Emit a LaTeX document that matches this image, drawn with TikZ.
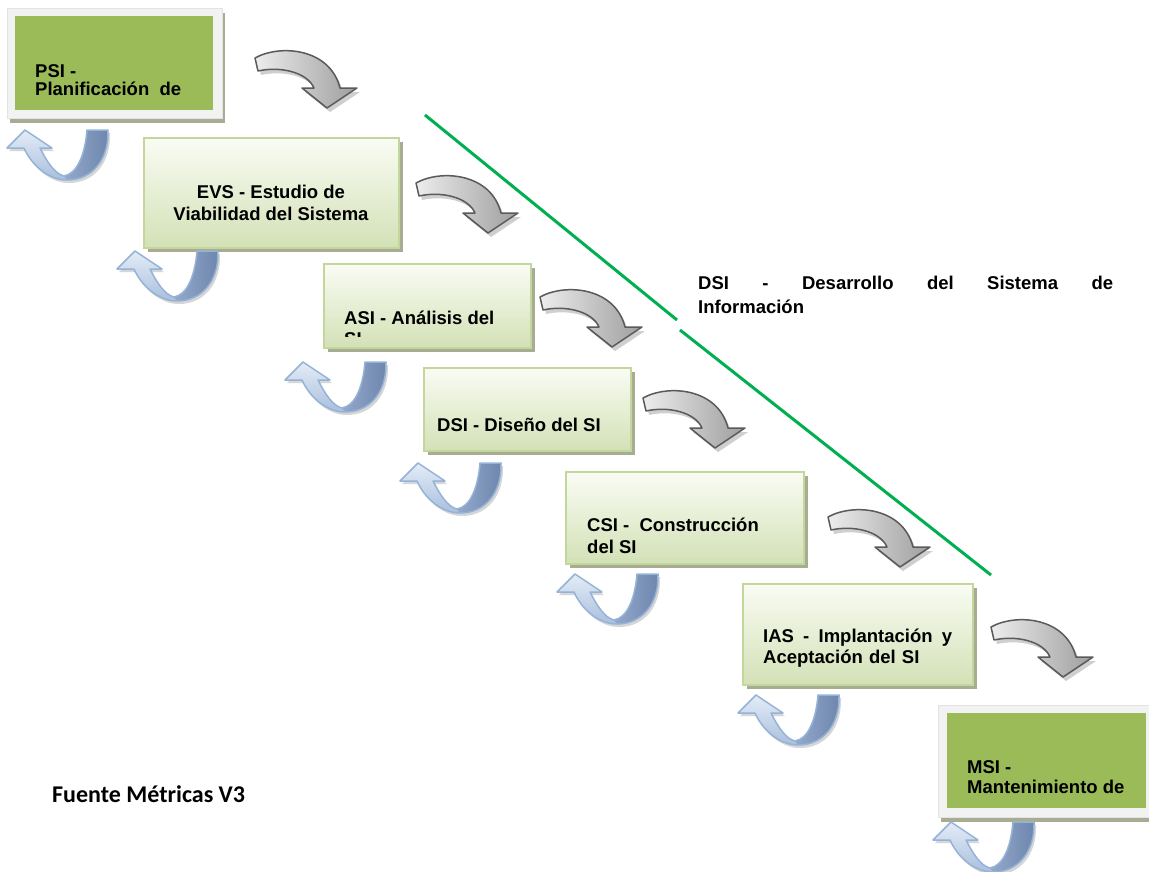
\documentclass[tikz,border=0pt]{standalone}
\usepackage{fontspec}
\usepackage{xcolor}
\usepackage{tikz}
\usetikzlibrary{shadows}
\usetikzlibrary{positioning}
\newfontfamily\boxfont{Liberation Sans}
\newfontfamily\notefont{Carlito}
\definecolor{phaseborder}{HTML}{C3D69B}
\definecolor{phasetop}{HTML}{FAFCF4}
\definecolor{phasebot}{HTML}{D3E1B6}
\definecolor{shadowolive}{HTML}{A8AC92}
\definecolor{framefill}{HTML}{F2F2F2}
\definecolor{framegray}{HTML}{E3E3E3}
\definecolor{coregreen}{HTML}{9BBB59}
\definecolor{dsigreen}{HTML}{00B050}
\definecolor{turnlight}{HTML}{EDEDED}
\definecolor{turndark}{HTML}{9E9E9E}
\definecolor{turnedge}{HTML}{5A5A5A}
\definecolor{turnshadow}{HTML}{CFCFCF}
\definecolor{loopedge}{HTML}{95B3D7}
\definecolor{looplight}{HTML}{E4ECF7}
\definecolor{loopmid}{HTML}{A9BFDD}
\definecolor{looparmlight}{HTML}{94A9CB}
\definecolor{looparmdark}{HTML}{6E86AD}
\definecolor{loopshadow}{HTML}{D6D6D6}
\newcommand{\phasefont}[1]{\boxfont\bfseries\fontsize{18.5}{#1}\selectfont}
\tikzstyle{phase} = [rectangle, draw=phaseborder, line width=1.5pt, top color=phasetop, bottom color=phasebot,
    anchor=north west, inner sep=0pt, drop shadow={shadow xshift=4pt, shadow yshift=-4pt, fill=shadowolive, opacity=1}]
\tikzstyle{endframe} = [rectangle, draw=framegray, line width=1pt, fill=framefill, anchor=north west, inner sep=0pt,
    drop shadow={shadow xshift=2pt, shadow yshift=-4pt, fill=shadowolive, opacity=1}]
\tikzstyle{endcore} = [rectangle, fill=coregreen, anchor=north west, inner sep=0pt]
\tikzstyle{phasetext} = [font=\phasefont{21.5}, align=left, inner sep=0pt, anchor=base west]
\tikzstyle{dsiline} = [draw=dsigreen, line width=3pt]
% block arrows
\newcommand{\turnpath}{(0,0) .. controls (25,-14) and (75,-10) .. (85,30) -- (102,30) -- (72,50) -- (47,30) -- (59,30)
    .. controls (52,14) and (25,8) .. (3,13) -- cycle}
\newcommand{\looppath}{(0,0) -- (21,0) .. controls (22,30) and (5,50) .. (-20,50) .. controls (-38,50) and (-55,36) .. (-63,18)
    -- (-80,18) -- (-62,0) -- (-35,18) -- (-47,18) .. controls (-40,32) and (-32,44) .. (-23,46)
    .. controls (-10,44) and (-2,25) .. (0,0) -- cycle}
\newcommand{\armpath}{(0,0) -- (21,0) .. controls (22,30) and (5,50) .. (-20,50) -- (-23,46) .. controls (-10,44) and (-2,25) .. (0,0) -- cycle}
\newcommand{\grayturn}[1]{%
  \begin{scope}[shift={(#1)}]
    \fill[turnshadow, shift={(3,4)}] \turnpath;
    \path[left color=turnlight, right color=turndark, draw=turnedge, line width=1.5pt, line join=round] \turnpath;
  \end{scope}}
\newcommand{\blueloop}[1]{%
  \begin{scope}[shift={(#1)}]
    \fill[loopshadow, shift={(2,3)}] \looppath;
    \path[top color=looplight, bottom color=loopmid] \looppath;
    \path[left color=looparmlight, right color=looparmdark] \armpath;
    \draw[loopedge, line width=1.5pt, line join=round] \looppath;
  \end{scope}}

\begin{document}
\begin{tikzpicture}[x=1pt,y=-1pt]
    \path[fill=white,use as bounding box] (0,0) rectangle (1149,871);
    % Place nodes
    \node[endframe, minimum width=215pt, minimum height=110pt] (psiframe) at (7,8) {};
    \node[endcore, minimum width=198pt, minimum height=94pt] (psi) at (15,16) {};
    \node[phase, minimum width=255pt, minimum height=110pt] (evs) at (143,137) {};
    \node[phase, minimum width=207pt, minimum height=84pt] (asi) at (323,263) {};
    \node[phase, minimum width=207pt, minimum height=83pt] (dsi) at (423,367) {};
    \node[phase, minimum width=238pt, minimum height=92pt] (csi) at (565,471) {};
    \node[phase, minimum width=230pt, minimum height=101pt] (ias) at (742,583) {};
    \node[endframe, minimum width=215pt, minimum height=112pt] (msiframe) at (938,705) {};
    \node[endcore, minimum width=199pt, minimum height=95pt] (msi) at (947,713) {};
    % Texts
    \node[phasetext, font=\phasefont{18}] (psitext) at (35,95) {PSI -\\Planificación \ de};
    \node[phasetext, align=center, anchor=base] (evstext) at (271,220) {EVS - Estudio de\\Viabilidad del Sistema};
    \begin{scope}
        \clip (323,263) rectangle (530,336);
        \node[phasetext] (asitext) at (344,345.5) {ASI - Análisis del\\SI};
    \end{scope}
    \node[phasetext] (dsitext) at (437,431) {DSI - Diseño del SI};
    \node[phasetext] (csitext) at (587,553) {CSI - \ Construcción\\del SI};
    \node[phasetext, text width=189pt] (iastext) at (763,642) {IAS\hfill-\hfill Implantación\hfill y\\Aceptación del SI};
    \node[phasetext, font=\phasefont{20}] (msitext) at (967,793) {MSI -\\Mantenimiento de};
    \node[phasetext, font=\phasefont{24}, text width=415pt] (dsilabel) at (698,289)
        {DSI\hfill-\hfill Desarrollo\hfill del\hfill Sistema\hfill de\\Información};
    \node[font=\notefont\bfseries\fontsize{24}{28}\selectfont, anchor=base west, inner sep=0pt] (source) at (52,802) {Fuente Métricas V3};
    % DSI boundary
    \coordinate (dsitop) at (425,115);
    \coordinate (dsigap1) at (677,320);
    \coordinate (dsigap2) at (680,330);
    \coordinate (dsiend) at (991,575);
    \path [dsiline] (dsitop) -- (dsigap1);
    \path [dsiline] (dsigap2) -- (dsiend);
    % Forward arrows
    \grayturn{255,58}
    \grayturn{416,183}
    \grayturn{540,297}
    \grayturn{643,398}
    \grayturn{828,517}
    \grayturn{991,627}
    % Return arrows
    \blueloop{87,130}
    \blueloop{197,251}
    \blueloop{365,362}
    \blueloop{480,463}
    \blueloop{637,574}
    \blueloop{818,695}
    \blueloop{1013,822}
\end{tikzpicture}
\end{document}
